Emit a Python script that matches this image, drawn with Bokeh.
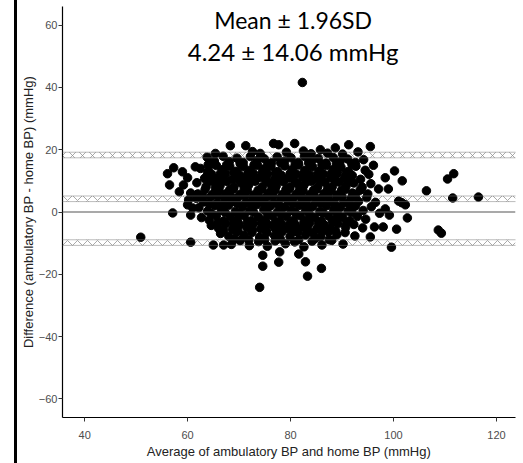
from bokeh.plotting import figure
from bokeh.models import Range1d, FixedTicker, Span, Label, Div
from bokeh.layouts import row
from bokeh.embed import file_html
from bokeh.resources import INLINE

# Summary statistics
mean_diff = 4.24
half_range = 14.06  # 1.96 SD
ci_half = 0.9
x_ticks = [40, 60, 80, 100, 120]
y_ticks = [-60, -40, -20, 0, 20, 40, 60]

# Estimated points: (average, difference)
pts = [
    # top
    (68.3,21.3),(71.3,21.3),(72.6,19.4),(74.1,18.8),(76.7,22.0),(77.7,21.6),(79.2,19.2),(80.8,22.0),
    (82.5,19.6),(84.0,18.7),(85.8,20.0),(87.2,18.9),(88.7,20.6),(90.1,18.6),(91.3,21.6),(93.1,19.3),
    (95.5,21.0),(65.4,18.8),(64.0,15.2),(61.5,14.5),
    # row A
    (63.8,17.6),(65.2,16.4),(66.9,17.9),(68.1,16.2),(69.6,17.3),(70.8,15.9),(72.2,17.8),(73.5,16.5),
    (74.9,17.1),(76.3,15.8),(77.4,17.7),(78.8,16.3),(80.1,17.4),(81.5,15.9),(82.7,17.9),(84.2,16.6),
    (85.4,17.2),(86.9,15.7),(88.3,17.5),(89.6,16.1),(91.1,17.0),(92.6,15.9),(94.2,16.8),
    # row B
    (56.1,12.3),(57.3,14.2),(59.0,12.9),(62.5,14.0),(64.1,13.2),(65.6,14.9),(66.8,13.6),(68.2,14.7),
    (69.5,13.1),(70.9,14.5),(72.1,13.3),(73.6,15.0),(74.8,13.8),(76.2,14.6),(77.5,13.0),(78.9,14.8),
    (80.3,13.6),(81.6,15.1),(82.9,13.4),(84.3,14.5),(85.7,13.2),(87.0,14.9),(88.4,13.7),(89.8,14.4),
    (91.3,13.1),(92.7,14.7),(94.5,13.4),(96.1,15.0),
    # row C
    (60.0,11.0),(63.3,10.8),(64.7,12.1),(66.0,11.0),(67.4,12.3),(68.7,10.6),(70.1,11.9),(71.4,10.9),
    (72.8,12.4),(74.1,11.1),(75.5,12.2),(76.9,10.7),(78.2,11.8),(79.6,10.9),(81.0,12.3),(82.3,11.2),
    (83.7,12.0),(85.0,10.8),(86.4,12.2),(87.8,11.0),(89.1,12.4),(90.5,10.9),(92.0,11.7),(93.6,10.5),
    (95.2,12.1),(98.4,11.0),(101.7,10.0),(100.2,13.2),(110.5,10.6),(111.7,12.3),
    # row D
    (56.5,8.7),(59.2,8.7),(61.8,9.4),(63.6,8.2),(65.0,9.6),(66.3,8.4),(67.7,9.8),(69.0,8.0),
    (70.4,9.3),(71.8,8.5),(73.1,9.9),(74.5,8.1),(75.8,9.4),(77.2,8.3),(78.6,9.7),(79.9,8.0),
    (81.3,9.2),(82.6,8.6),(84.0,9.9),(85.3,8.2),(86.7,9.5),(88.1,8.1),(89.4,9.6),(90.8,8.4),
    (92.3,9.3),(93.9,8.0),(95.6,9.1),
    # row E
    (58.4,6.5),(60.6,6.1),(62.0,5.8),(63.4,7.2),(64.8,5.6),(66.1,7.0),(67.5,5.9),(68.9,7.4),
    (70.2,5.7),(71.6,6.9),(72.9,5.5),(74.3,7.3),(75.6,6.0),(77.0,7.1),(78.4,5.6),(79.7,7.4),
    (81.1,5.8),(82.4,7.0),(83.8,5.7),(85.1,7.3),(86.5,5.9),(87.9,6.8),(89.2,5.5),(90.6,7.2),
    (92.0,6.1),(93.5,7.0),(95.0,5.8),(97.1,7.4),(99.0,7.4),(106.4,6.8),
    # row F
    (60.2,3.9),(60.0,2.3),(61.7,4.4),(63.1,3.2),(64.5,4.8),(65.8,3.0),(67.2,4.6),(68.6,3.4),
    (69.9,4.9),(71.3,3.1),(72.6,4.5),(74.0,3.3),(75.4,4.8),(76.7,3.0),(78.1,4.4),(79.5,3.6),
    (80.8,4.9),(82.2,3.2),(83.5,4.6),(84.9,3.1),(86.2,4.7),(87.6,3.5),(89.0,4.8),(90.3,3.0),
    (91.7,4.3),(93.2,3.4),(94.8,4.6),(96.5,3.1),(101.0,3.5),(101.6,3.0),(102.3,2.3),(111.5,4.5),
    (116.5,4.8),
    # row G
    (57.1,-0.3),(61.0,1.3),(62.2,1.4),(63.9,0.3),(65.3,2.0),(66.6,0.6),(68.0,2.2),(69.3,0.2),
    (70.7,1.7),(72.1,0.4),(73.4,2.3),(74.8,0.8),(76.1,1.9),(77.5,0.1),(78.9,1.6),(80.2,0.5),
    (81.6,2.1),(82.9,0.7),(84.3,1.8),(85.7,0.2),(87.0,2.0),(88.4,0.6),(89.7,1.5),(91.2,0.3),
    (92.6,1.9),(94.1,0.5),(95.7,1.7),(98.4,1.0),(97.3,-0.4),
    # row H
    (60.6,-1.0),(62.7,-1.8),(64.2,-2.6),(65.6,-1.2),(67.0,-2.9),(68.3,-1.5),(69.7,-2.4),(71.0,-1.1),
    (72.4,-2.8),(73.8,-1.6),(75.1,-2.5),(76.5,-1.3),(77.9,-3.0),(79.2,-1.4),(80.6,-2.7),(81.9,-1.2),
    (83.3,-2.5),(84.7,-1.7),(86.0,-2.9),(87.4,-1.3),(88.7,-2.4),(90.1,-1.6),(91.5,-2.8),(93.0,-1.4),
    (94.6,-2.3),(99.2,-1.0),(102.7,-1.9),
    # row I
    (64.6,-4.3),(66.0,-5.2),(67.4,-3.8),(68.7,-5.5),(70.1,-4.1),(71.5,-5.0),(72.8,-3.7),(74.2,-5.4),
    (75.6,-4.0),(76.9,-5.1),(78.3,-3.9),(79.6,-5.3),(81.0,-4.2),(82.4,-5.0),(83.7,-3.6),(85.1,-5.4),
    (86.5,-4.1),(87.8,-5.2),(89.2,-3.8),(90.7,-4.9),(92.3,-4.0),(94.0,-5.1),(96.3,-4.8),(98.0,-4.8),
    (100.6,-5.5),(108.7,-5.8),(109.3,-6.8),
    # row J
    (66.4,-6.9),(68.0,-7.8),(69.5,-6.4),(71.0,-7.5),(72.5,-6.6),(74.0,-8.0),(75.4,-6.7),(76.9,-7.6),
    (78.4,-6.3),(79.9,-7.9),(81.4,-6.5),(82.9,-7.4),(84.4,-6.8),(85.9,-7.9),(87.4,-6.4),(89.0,-7.3),
    (90.6,-6.6),(92.5,-7.7),(95.5,-8.0),
    # row K
    (50.9,-8.1),(60.6,-9.7),(65.0,-10.6),(67.0,-10.6),(68.5,-10.4),(70.2,-9.2),(72.0,-10.8),(73.8,-9.5),
    (75.5,-11.0),(77.0,-9.3),(79.0,-10.2),(80.8,-9.6),(82.6,-11.2),(84.2,-9.4),(86.1,-10.6),(88.0,-9.1),
    (90.2,-10.3),(99.6,-11.3),
    # tail and outliers
    (74.6,-13.9),(74.6,-17.4),(74.0,-24.2),(77.7,-16.1),(82.9,-16.0),(83.3,-20.6),(86.0,-18.1),
    (81.6,-13.5),(77.9,-12.8),(82.3,41.6),
    # dense core, second layer
    (64.9,15.5),(67.6,15.2),(70.2,15.6),(72.9,15.1),(75.6,15.4),(78.1,15.7),(80.9,15.3),(83.5,15.8),
    (86.1,15.2),(88.9,15.6),(91.9,15.4),
    (63.9,12.6),(66.4,12.4),(69.0,12.8),(71.7,12.2),(74.5,12.7),(77.1,12.5),(79.9,12.3),(82.6,12.8),
    (85.3,12.4),(88.0,12.6),(90.8,12.3),
    (64.2,10.2),(67.0,10.0),(69.8,10.4),(72.4,9.9),(75.2,10.3),(77.9,10.1),(80.6,10.5),(83.2,9.8),
    (86.0,10.3),(88.7,10.0),(91.5,10.2),
    (65.4,7.6),(68.2,7.2),(71.0,7.5),(73.7,7.0),(76.4,7.6),(79.1,7.2),(81.8,7.5),(84.5,7.1),
    (87.2,7.4),(89.9,7.0),
    (63.0,5.0),(65.9,5.2),(68.5,4.9),(71.1,5.3),(73.9,5.0),(76.6,5.2),(79.3,5.1),(82.0,5.3),
    (84.7,4.9),(87.3,5.2),(90.0,5.0),(92.6,5.3),
    (64.2,2.6),(66.9,2.4),(69.6,2.8),(72.3,2.5),(75.0,2.7),(77.7,2.3),(80.4,2.8),(83.1,2.5),
    (85.9,2.7),(88.6,2.4),(91.4,2.6),
    (64.6,-0.5),(67.3,-0.2),(70.0,-0.6),(72.8,-0.1),(75.5,-0.4),(78.2,-0.7),(80.9,-0.2),(83.6,-0.5),
    (86.3,-0.3),(89.1,-0.6),(91.9,-0.2),
    (65.9,-3.3),(68.9,-3.6),(71.6,-3.1),(74.4,-3.5),(77.1,-3.2),(79.9,-3.6),(82.6,-3.3),(85.4,-3.5),
    (88.1,-3.1),(90.9,-3.4),
    (67.0,-5.9),(69.8,-6.2),(72.6,-5.8),(75.3,-6.1),(78.0,-5.9),(80.7,-6.2),(83.4,-5.8),(86.1,-6.0),
    (88.8,-6.2),
    (69.1,-8.7),(71.9,-9.0),(75.0,-8.8),(78.0,-8.6),(81.6,-8.9),(84.8,-8.5),(87.5,-8.9),
]
avg_bp = [p_[0] for p_ in pts]
diff_bp = [p_[1] for p_ in pts]

upper = mean_diff + half_range
lower = mean_diff - half_range
limits = [upper, mean_diff, lower]

p = figure(width=506, height=463, output_backend="svg", toolbar_location=None,
           x_range=Range1d(35.7, 123.7), y_range=Range1d(-66.0, 66.0),
           min_border_left=40, min_border_right=8, min_border_top=6, min_border_bottom=46)
p.outline_line_color = None
p.xgrid.visible = False
p.ygrid.visible = False
p.background_fill_color = "white"
p.border_fill_color = "white"

# zero line
p.add_layout(Span(location=0, dimension="width", line_color="#555555", line_width=1.2))

# bands
for lv in limits:
    p.quad(left=35.7, right=123.7, bottom=lv - ci_half, top=lv + ci_half,
           fill_alpha=0, line_alpha=0, hatch_pattern="diagonal_cross",
           hatch_color="#888888", hatch_scale=10, hatch_weight=0.8, hatch_alpha=0.9)
    for off in (-ci_half, ci_half):
        p.add_layout(Span(location=lv + off, dimension="width", line_color="#777777",
                          line_width=1, line_dash="1 1"))

p.scatter(avg_bp, diff_bp, size=8.5, color="black")

for ax in (p.xaxis[0], p.yaxis[0]):
    ax.axis_line_color = "black"
    ax.axis_line_width = 1.2
    ax.major_tick_line_color = "#333333"
    ax.major_tick_in = 0
    ax.major_tick_out = 4
    ax.minor_tick_line_color = None
    ax.major_label_text_font = "Liberation Sans"
    ax.major_label_text_font_size = "11px"
    ax.major_label_text_color = "#4d4d4d"
    ax.axis_label_text_font = "Liberation Sans"
    ax.axis_label_text_font_size = "13px"
    ax.axis_label_text_font_style = "normal"
    ax.axis_label_text_color = "#222222"

p.yaxis.major_label_standoff = 1
p.xaxis.major_label_standoff = 9
p.xaxis.ticker = FixedTicker(ticks=x_ticks)
p.yaxis.ticker = FixedTicker(ticks=y_ticks)
p.xaxis.axis_label = "Average of ambulatory BP and home BP (mmHg)"
p.yaxis.axis_label = "Difference (ambulatory BP - home BP) (mmHg)"
p.xaxis.axis_label_standoff = 2
p.yaxis.axis_label_standoff = 0

p.add_layout(Label(x=80.5, y=61.8, text="Mean \u00b1 1.96SD", text_align="center",
                   text_baseline="middle", text_font="Lato", text_font_size="23px",
                   text_color="black"))
p.add_layout(Label(x=80.5, y=51.6, text=f"{mean_diff:.2f} \u00b1 {half_range:.2f} mmHg",
                   text_align="center", text_baseline="middle", text_font="Lato",
                   text_font_size="24px", text_color="black"))

spacer = Div(width=14, height=463, margin=0)
bar = Div(width=3, height=463, margin=0, styles={"background-color": "black"})
layout = row(spacer, bar, p, spacing=0)

open("out.html", "w").write(file_html(layout, INLINE))
